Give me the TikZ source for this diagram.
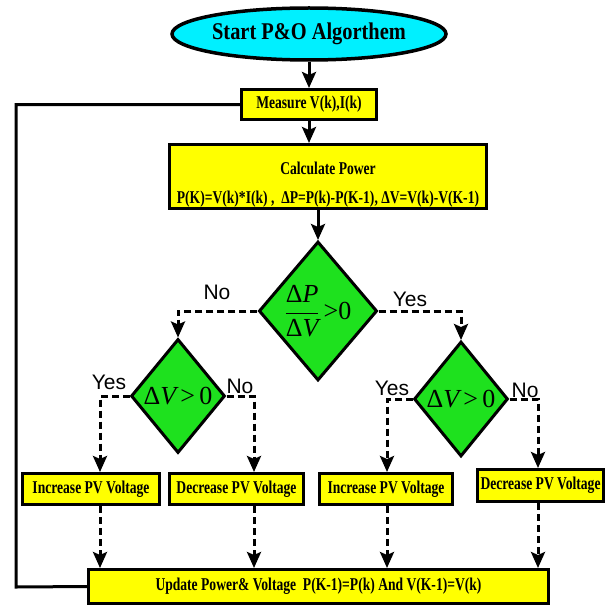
\documentclass[tikz,border=0pt]{standalone}
\usepackage{fontspec}
\setmainfont{Liberation Serif}
\newfontfamily\cond[FakeStretch=0.755]{Liberation Serif}
\newfontfamily\condb[FakeStretch=0.85]{Liberation Serif}
\newfontfamily\tms{Liberation Serif}
\newfontfamily\lab{Liberation Sans}
\usetikzlibrary{shapes.geometric,arrows.meta,calc}
\definecolor{boxyellow}{RGB}{255,255,0}
\definecolor{startcyan}{RGB}{0,240,255}
\definecolor{diagreen}{RGB}{30,225,30}
\newcommand{\dl}[1]{\mbox{\tms Δ\itshape #1}}
\begin{document}
\begin{tikzpicture}[x=1pt,y=-1pt,
  box/.style={draw, line width=3pt, fill=boxyellow, inner sep=0pt, font=\cond\bfseries\fontsize{18}{20}\selectfont, align=center},
  boxtext/.style={inner sep=0pt, font=\cond\bfseries\fontsize{18}{20}\selectfont},
  dia/.style={draw, line width=3pt, fill=diagreen, shape=diamond, inner sep=0pt, font=\tms\fontsize{26}{28}\selectfont},
  arr/.style={line width=3pt, -{Stealth[length=16pt,width=14pt,inset=3pt]}},
  darr/.style={arr, dash pattern=on 7pt off 4pt},
  lbl/.style={font=\lab\fontsize{21}{23}\selectfont, inner sep=0pt}]
\useasboundingbox (0,0) rectangle (609,607);
\node[draw, line width=3.5pt, fill=startcyan, ellipse, minimum width=231pt, minimum height=52pt, inner sep=0pt, font=\condb\bfseries\fontsize{24}{26}\selectfont] (start) at (309,34) {Start P\&O Algorthem};
\node[box, minimum width=135pt, minimum height=30pt] (m) at (309,104.5) {Measure V(k),I(k)};
\node[box, minimum width=317pt, minimum height=64pt] (calc) at (328,176.5) {};
\node[boxtext] (calct) at (328,168) {Calculate Power};
\node[boxtext] (calcf) at (328,199) {P(K)=V(k)*I(k) ,\ \ ΔP=P(k)-P(K-1), ΔV=V(k)-V(K-1)};
\node[dia, minimum width=114pt, minimum height=139pt] (d0) at (318,311) {$\displaystyle\frac{\dl{P}}{\dl{V}}\mkern3mu\mbox{\tms >0}$};
\node[dia, minimum width=94pt, minimum height=114pt] (d1) at (178,396) {\dl{V}\,>\,0};
\node[dia, minimum width=94pt, minimum height=115pt] (d2) at (461,399) {\dl{V}\,>\,0};
\node[box, minimum width=137pt, minimum height=31pt] (b1) at (91,489) {Increase PV Voltage};
\node[box, minimum width=134pt, minimum height=31pt] (b2) at (236.5,489) {Decrease PV Voltage};
\node[box, minimum width=133pt, minimum height=31pt] (b3) at (386,489) {Increase PV Voltage};
\node[box, minimum width=126pt, minimum height=32pt] (b4) at (540.5,485.5) {Decrease PV Voltage};
\node[box, minimum width=460pt, minimum height=34pt] (up) at (318.5,586.5) {Update Power\& Voltage\ \ P(K-1)=P(k) And V(K-1)=V(k)};
\draw[arr] (start.south) -- (m.north);
\draw[arr] (m.south) -- (m.south |- calc.north);
\draw[arr] (d0.north |- calc.south) -- (d0.north);
\draw[darr] (d0.west) -| (d1.north);
\draw[darr] (d0.east) -| (d2.north);
\draw[darr] (d1.west) -| ([xshift=9pt]b1.north);
\draw[darr] (d1.east) -| ([xshift=17.5pt]b2.north);
\draw[darr] (d2.west) -| ([xshift=1pt]b3.north);
\draw[darr] (d2.east) -| ([xshift=-2.5pt]b4.north);
\draw[darr] ([xshift=9pt]b1.south) -- ([xshift=9pt]b1.south |- up.north);
\draw[darr] ([xshift=17.5pt]b2.south) -- ([xshift=17.5pt]b2.south |- up.north);
\draw[darr] ([xshift=1pt]b3.south) -- ([xshift=1pt]b3.south |- up.north);
\draw[darr] ([xshift=-2.5pt]b4.south) -- ([xshift=-2.5pt]b4.south |- up.north);
\coordinate (fb) at (16,587);
\draw[line width=3pt] (up.west) -- (fb) |- (m.west);
\node[lbl] (no0) at (217,292) {No};
\node[lbl] (yes0) at (410,299) {Yes};
\node[lbl] (yes1) at (109,382) {Yes};
\node[lbl] (no1) at (240,386) {No};
\node[lbl] (yes2) at (392,388) {Yes};
\node[lbl] (no2) at (525,390) {No};
\end{tikzpicture}
\end{document}
